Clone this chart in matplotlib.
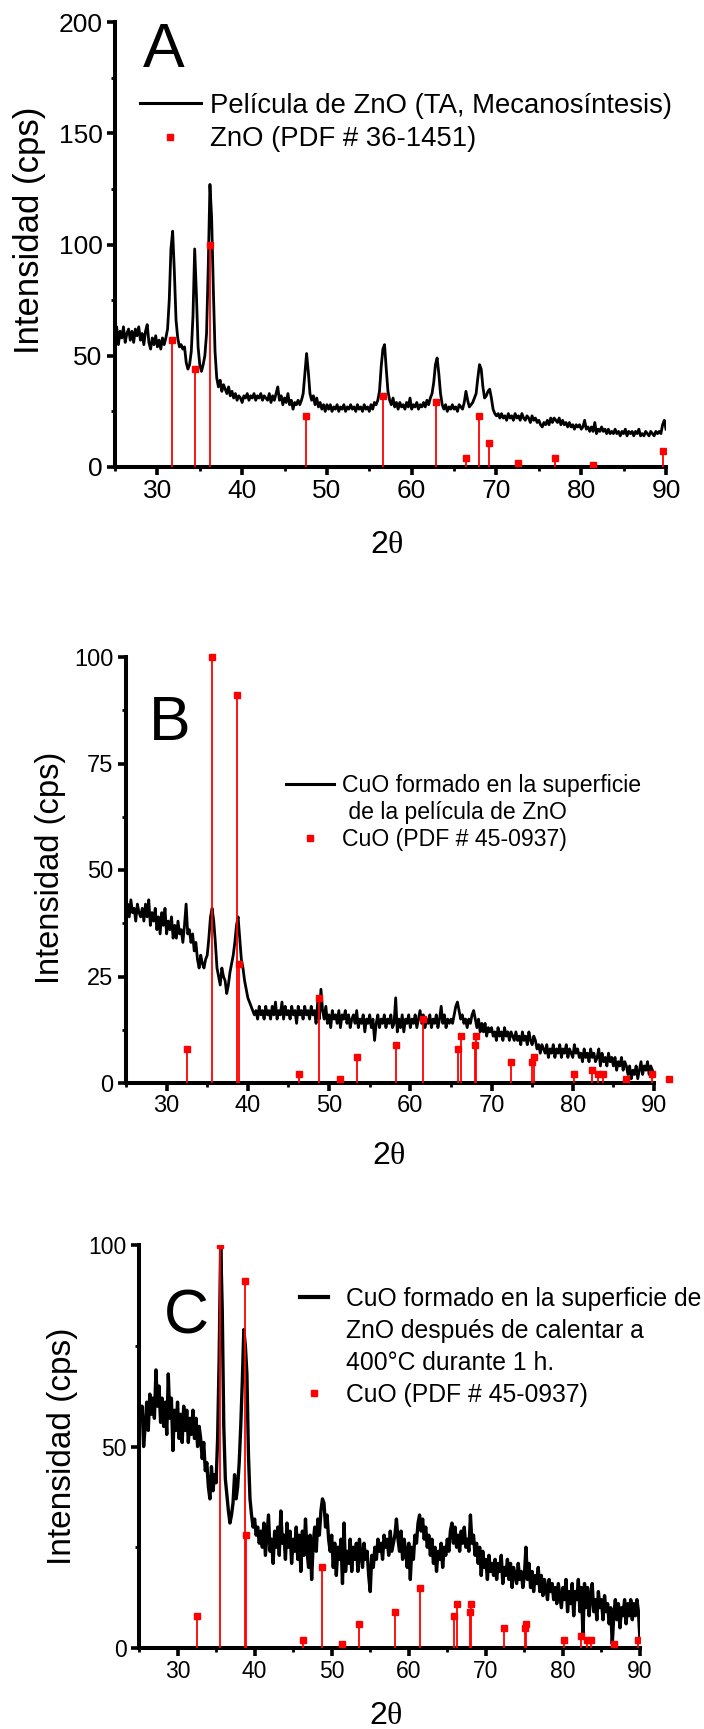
import numpy as np
import matplotlib
matplotlib.use('Agg')
import matplotlib.pyplot as plt
from matplotlib.ticker import MultipleLocator
from matplotlib.lines import Line2D

plt.rcParams['font.family'] = ['Liberation Sans', 'DejaVu Sans']
plt.rcParams['mathtext.fontset'] = 'custom'
plt.rcParams['mathtext.rm'] = 'Liberation Serif'
plt.rcParams['mathtext.it'] = 'Liberation Serif'

W, H = 704, 1729

### Measured patterns, 2theta from 25 to 90 deg, step 0.2 (one row = 2 deg)
zno_film = [
    57, 63, 55, 61, 58, 63, 56, 60, 62, 57,
    61, 56, 62, 59, 63, 57, 60, 55, 61, 64,
    56, 53, 58, 55, 59, 54, 57, 53, 58, 55,
    58, 62, 75, 98, 106, 88, 66, 58, 54, 55,
    53, 54, 47, 44, 46, 52, 68, 98, 78, 54,
    46, 43, 46, 50, 60, 90, 127, 112, 80, 52,
    40, 36, 39, 34, 37, 35, 33, 36, 32, 34,
    31, 33, 30, 32, 31, 29, 32, 31, 33, 30,
    32, 31, 33, 30, 32, 31, 33, 30, 32, 31,
    30, 33, 29, 32, 30, 33, 36, 30, 32, 28,
    31, 29, 33, 28, 30, 26, 29, 28, 30, 28,
    30, 33, 42, 51, 43, 33, 30, 32, 28, 31,
    27, 29, 26, 28, 25, 28, 26, 28, 25, 27,
    26, 28, 25, 27, 26, 28, 25, 27, 26, 28,
    26, 27, 25, 28, 26, 27, 25, 28, 26, 27,
    25, 28, 26, 29, 28, 30, 34, 45, 53, 55,
    44, 34, 30, 28, 31, 27, 29, 26, 29, 27,
    28, 26, 29, 27, 31, 26, 28, 27, 29, 26,
    28, 27, 29, 27, 30, 28, 31, 33, 38, 46,
    49, 42, 33, 28, 26, 28, 25, 27, 26, 28,
    26, 27, 25, 28, 27, 26, 29, 34, 30, 27,
    28, 29, 31, 33, 40, 46, 44, 36, 31, 32,
    34, 35, 31, 26, 24, 23, 24, 22, 24, 22,
    23, 21, 24, 22, 23, 21, 24, 22, 23, 21,
    24, 22, 21, 23, 22, 20, 23, 21, 22, 20,
    21, 19, 18, 20, 19, 21, 19, 22, 20, 22,
    21, 20, 22, 19, 21, 19, 20, 18, 20, 18,
    19, 17, 19, 18, 19, 17, 18, 21, 17, 18,
    16, 18, 16, 20, 15, 17, 16, 18, 16, 17,
    15, 17, 15, 16, 15, 17, 15, 16, 14, 16,
    15, 17, 14, 16, 15, 16, 14, 16, 15, 17,
    14, 15, 14, 16, 15, 14, 16, 15, 14, 16,
    15, 16, 15, 19, 21, 17]

cuo_film = [
    38, 42, 39, 43, 40, 41, 38, 42, 40, 39,
    41, 38, 42, 39, 43, 37, 40, 38, 41, 36,
    39, 35, 40, 37, 41, 35, 38, 36, 39, 34,
    37, 34, 38, 35, 36, 33, 37, 42, 35, 36,
    33, 35, 31, 33, 29, 27, 30, 28, 27, 29,
    30, 34, 39, 41, 38, 33, 27, 25, 23, 27,
    25, 24, 21, 23, 26, 28, 30, 33, 37, 39,
    34, 29, 27, 24, 22, 20, 19, 18, 17, 16,
    17, 15, 18, 16, 17, 15, 18, 16, 17, 15,
    18, 16, 19, 15, 17, 16, 19, 15, 18, 16,
    17, 15, 18, 16, 17, 14, 18, 16, 17, 15,
    18, 16, 17, 15, 18, 16, 17, 14, 19, 15,
    22, 17, 15, 18, 14, 16, 13, 17, 15, 16,
    14, 17, 13, 16, 15, 17, 14, 16, 13, 15,
    16, 14, 17, 13, 15, 14, 16, 12, 15, 14,
    16, 13, 15, 10, 14, 16, 13, 15, 14, 16,
    13, 15, 14, 16, 13, 14, 20, 12, 15, 13,
    16, 12, 15, 14, 16, 13, 15, 14, 16, 13,
    15, 17, 14, 16, 13, 15, 14, 16, 13, 15,
    14, 16, 13, 15, 18, 14, 16, 13, 15, 14,
    15, 14, 16, 18, 19, 17, 15, 16, 14, 15,
    13, 15, 14, 16, 17, 15, 13, 15, 12, 14,
    12, 14, 11, 13, 12, 13, 11, 12, 10, 13,
    11, 12, 10, 13, 11, 12, 10, 12, 11, 10,
    12, 10, 11, 9, 12, 10, 11, 9, 12, 10,
    9, 11, 10, 8, 9, 7, 9, 8, 7, 9,
    6, 8, 7, 9, 6, 8, 7, 9, 6, 8,
    7, 9, 6, 8, 7, 6, 9, 7, 8, 6,
    7, 5, 8, 6, 7, 5, 8, 6, 7, 5,
    6, 8, 4, 7, 5, 6, 4, 7, 5, 6,
    4, 6, 3, 5, 4, 6, 3, 5, 4, 2,
    4, 1, 3, 2, 4, 1, 3, 5, 2, 4,
    3, 5, 2, 4, 3, 2]

cuo_heated = [
    62, 57, 60, 50, 55, 61, 54, 63, 58, 62,
    57, 69, 60, 65, 56, 62, 55, 61, 53, 68,
    57, 62, 49, 59, 54, 61, 52, 58, 51, 60,
    54, 59, 51, 57, 53, 59, 52, 57, 50, 55,
    52, 47, 51, 44, 46, 40, 37, 45, 39, 43,
    41, 52, 72, 100, 84, 55, 42, 38, 34, 31,
    33, 36, 43, 37, 40, 46, 55, 66, 79, 75,
    68, 48, 37, 33, 30, 32, 28, 30, 26, 29,
    25, 31, 23, 28, 33, 24, 27, 21, 29, 25,
    30, 23, 34, 26, 28, 22, 31, 25, 29, 21,
    27, 24, 30, 22, 28, 19, 29, 23, 32, 24,
    20, 28, 17, 26, 30, 24, 32, 28, 34, 37,
    36, 30, 33, 27, 24, 28, 20, 26, 18, 25,
    22, 27, 16, 31, 19, 24, 21, 27, 19, 25,
    22, 26, 19, 27, 23, 20, 26, 22, 24, 18,
    14, 23, 20, 25, 22, 27, 24, 26, 22, 28,
    25, 27, 23, 29, 24, 26, 28, 32, 27, 24,
    29, 22, 27, 24, 20, 26, 17, 25, 22, 28,
    26, 31, 33, 29, 32, 27, 30, 25, 28, 23,
    27, 21, 25, 19, 24, 22, 26, 20, 25, 23,
    27, 24, 29, 31, 26, 30, 25, 28, 24, 29,
    26, 30, 25, 27, 24, 33, 26, 28, 23, 26,
    21, 25, 18, 24, 20, 22, 17, 23, 19, 21,
    18, 22, 17, 21, 19, 23, 16, 20, 18, 22,
    17, 21, 15, 20, 18, 16, 21, 17, 19, 15,
    18, 25, 17, 21, 15, 19, 14, 18, 16, 20,
    14, 18, 13, 17, 15, 12, 17, 14, 16, 12,
    15, 11, 16, 13, 10, 15, 12, 17, 9, 14,
    11, 16, 8, 14, 12, 17, 9, 15, 3, 16,
    10, 15, 8, 13, 16, 9, 12, 7, 14, 10,
    12, 7, 13, 9, 11, 6, 10, 1, 8, 12,
    7, 11, 5, 10, 8, 12, 6, 11, 8, 12,
    7, 11, 8, 12, 9, 2]

### Reference cards
zno_ref_pos = [31.77, 34.42, 36.25, 47.54, 56.60, 62.86, 66.38, 67.96, 69.10, 72.56, 76.95, 81.37, 89.61]
zno_ref_int = [57, 44, 100, 23, 32, 29, 4, 23, 11, 2, 4, 1, 7]

cuo_ref_pos = [32.51, 35.54, 38.71, 38.90, 46.27, 48.72, 51.35, 53.49, 58.27, 61.52, 65.81, 66.22,
               67.91, 68.12, 72.37, 75.04, 75.24, 80.20, 82.40, 83.10, 83.70, 86.60, 89.80, 91.90]
cuo_ref_int = [8, 100, 91, 28, 2, 20, 1, 6, 9, 15, 8, 11, 9, 11, 5, 5, 6, 2, 3, 2, 2, 1, 2, 1]


def two_theta(y):
    return np.round(25 + 0.2 * np.arange(len(y)), 1)


def box(l, t, r, b):
    return [l / W, 1 - b / H, (r - l) / W, (b - t) / H]


def fxy(x, y):
    return (x / W, 1 - y / H)


fig = plt.figure(figsize=(W / 100, H / 100), dpi=100)


def draw_panel(rect, film, refx, refy, ymax, ymaj, ymin, tick_fs, lw, clip_ref=True):
    ax = fig.add_axes(rect)
    ax.plot(two_theta(film), film, color='black', linewidth=lw, zorder=2)
    ax.vlines(refx, 0, refy, color='red', linewidth=1.3, zorder=3, clip_on=clip_ref)
    ax.plot(refx, refy, linestyle='none', marker='s', color='red', markersize=4,
            zorder=4, clip_on=clip_ref)
    ax.set_xlim(25, 90)
    ax.set_ylim(0, ymax)
    ax.xaxis.set_major_locator(MultipleLocator(10))
    ax.xaxis.set_minor_locator(MultipleLocator(5))
    ax.yaxis.set_major_locator(MultipleLocator(ymaj))
    ax.yaxis.set_minor_locator(MultipleLocator(ymin))
    for s in ['top', 'right']:
        ax.spines[s].set_visible(False)
    for s in ['left', 'bottom']:
        ax.spines[s].set_linewidth(2.9)
    ax.tick_params(which='major', direction='out', length=5.5, width=2.6,
                   labelsize=tick_fs, pad=3.5)
    ax.tick_params(which='minor', direction='out', length=3, width=2)
    ax.patch.set_visible(False)
    return ax


line_h = lambda lw: Line2D([], [], color='black', linewidth=lw)
mark_h = Line2D([], [], linestyle='none', marker='s', color='red', markersize=4)
blank_h = Line2D([], [], linestyle='none')

### Panel A
axA = draw_panel(box(115, 22, 666, 467), zno_film, zno_ref_pos, zno_ref_int, 200, 50, 25, 19, 2.0)
axA.legend([line_h(2.2), mark_h],
           ['Película de ZnO (TA, Mecanosíntesis)', 'ZnO (PDF # 36-1451)'],
           loc='upper left', bbox_to_anchor=fxy(140, 93), bbox_transform=fig.transFigure,
           frameon=False, fontsize=19.8, handlelength=2.2, handletextpad=0.36,
           labelspacing=0.27, borderpad=0, borderaxespad=0)

### Panel B
axB = draw_panel(box(126, 657, 654, 1083), cuo_film, cuo_ref_pos, cuo_ref_int, 100, 25, 12.5, 17, 2.0,
                 clip_ref=False)
axB.legend([line_h(2.2), blank_h, mark_h],
           ['CuO formado en la superficie', ' de la película de ZnO', 'CuO (PDF # 45-0937)'],
           loc='upper left', bbox_to_anchor=fxy(286, 774), bbox_transform=fig.transFigure,
           frameon=False, fontsize=16.6, handlelength=2.1, handletextpad=0.35,
           labelspacing=0.18, borderpad=0, borderaxespad=0)

### Panel C
axC = draw_panel(box(139, 1245, 640, 1648), cuo_heated, cuo_ref_pos, cuo_ref_int, 100, 50, 25, 16.5, 2.4)
axC.legend([line_h(3.0), blank_h, blank_h, mark_h],
           ['CuO formado en la superficie de', 'ZnO después de calentar a',
            '400°C durante 1 h.', 'CuO (PDF # 45-0937)'],
           loc='upper left', bbox_to_anchor=fxy(300, 1287), bbox_transform=fig.transFigure,
           frameon=False, fontsize=17.8, handlelength=1.15, handletextpad=0.7,
           labelspacing=0.32, borderpad=0, borderaxespad=0)

### Axis titles and panel letters
for (cx, cy, fs) in [(30, 230, 25), (50, 868, 23.5), (62, 1446, 24)]:
    fig.text(*fxy(cx, cy), 'Intensidad (cps)', rotation=90, fontsize=fs, ha='center', va='center')
for (cx, cy) in [(387, 545), (389, 1156), (386, 1716)]:
    fig.text(*fxy(cx, cy), r'2$\theta$', fontsize=23, ha='center', va='center')
for (lx, by, letter) in [(143, 67, 'A'), (149, 740, 'B'), (164, 1333, 'C')]:
    fig.text(*fxy(lx, by), letter, fontsize=45, ha='left', va='baseline')

fig.savefig('out.png', dpi=100)
